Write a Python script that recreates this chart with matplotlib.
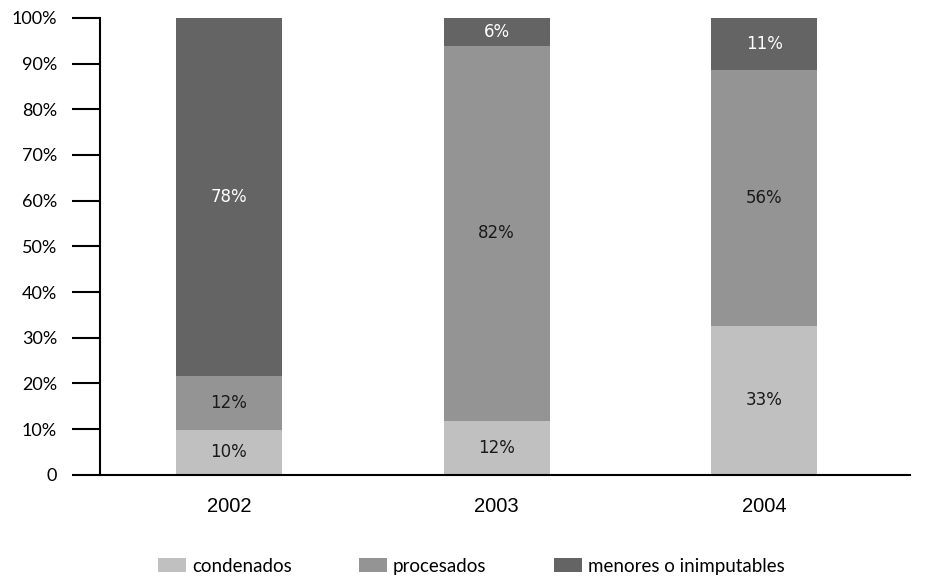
import matplotlib
matplotlib.use('Agg')
import matplotlib.pyplot as plt
import numpy as np

years = ["2002", "2003", "2004"]
condenados = [9.9, 11.8, 32.6]
procesados = [11.8, 82.1, 56.0]
menores = [78.3, 6.1, 11.4]

series = [
    ("condenados", condenados, "#c0c0c0", "#1a1a1a"),
    ("procesados", procesados, "#949494", "#1a1a1a"),
    ("menores o inimputables", menores, "#646464", "#ffffff"),
]

plt.rcParams['font.family'] = ['Lato', 'DejaVu Sans']

fig = plt.figure(figsize=(9.26, 5.77), dpi=100)
ax = fig.add_axes([0.108, 0.177, 0.875, 0.792])

x = np.arange(len(years))
bottom = np.zeros(len(years))
for name, vals, color, tcolor in series:
    vals = np.array(vals)
    ax.bar(x, vals, width=0.396, bottom=bottom, color=color, label=name, zorder=2)
    for xi, b, v in zip(x, bottom, vals):
        ax.text(xi, b + v / 2, f"{round(v):.0f}%", ha="center", va="center",
                fontsize=12, color=tcolor, zorder=3, family="DejaVu Sans")
    bottom += vals

ax.set_xlim(-0.482, 2.546)
ax.set_ylim(0, 100)
ax.set_yticks(range(0, 101, 10))
ax.set_yticklabels(["0"] + [f"{v}%" for v in range(10, 101, 10)])
ax.set_xticks(x)
ax.set_xticklabels(years, family="Liberation Sans")
ax.tick_params(axis="y", length=20, width=1.5, labelsize=13, pad=11)
ax.tick_params(axis="x", length=0, labelsize=14.5, pad=16)
ax.spines['top'].set_visible(False)
ax.spines['right'].set_visible(False)
ax.spines['left'].set_linewidth(1.5)
ax.spines['bottom'].set_linewidth(1.5)

fig.legend(loc="center", bbox_to_anchor=(0.509, 0.019), ncol=3, frameon=False,
           fontsize=13.5, handlelength=1.5, handleheight=0.8, handletextpad=0.3,
           columnspacing=3.6)

plt.savefig("out.png", dpi=100)
plt.close()
